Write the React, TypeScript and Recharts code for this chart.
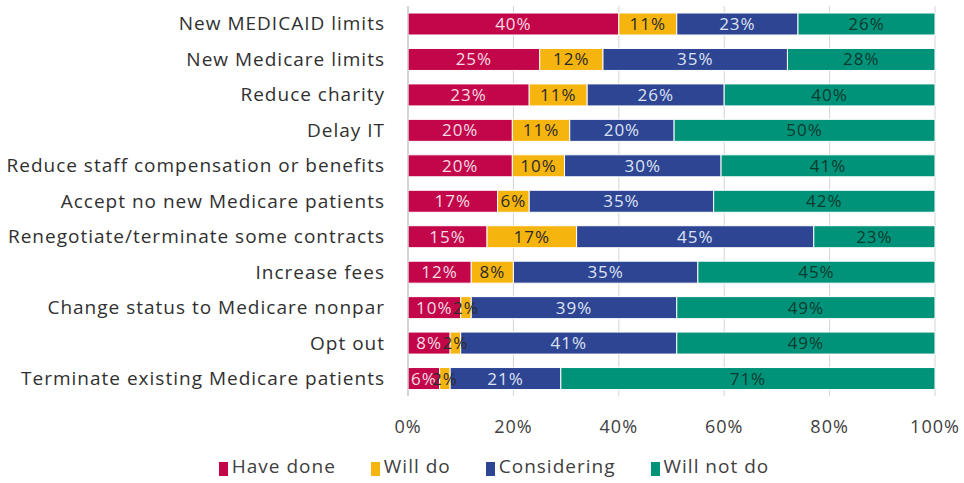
import { Bar, BarChart, CartesianGrid, LabelList, Legend, XAxis, YAxis } from 'recharts';

const categories = [
  'New MEDICAID limits',
  'New Medicare limits',
  'Reduce charity',
  'Delay IT',
  'Reduce staff compensation or benefits',
  'Accept no new Medicare patients',
  'Renegotiate/terminate some contracts',
  'Increase fees',
  'Change status to Medicare nonpar',
  'Opt out',
  'Terminate existing Medicare patients',
];

const haveDone = [40, 25, 23, 20, 20, 17, 15, 12, 10, 8, 6];
const willDo = [11, 12, 11, 11, 10, 6, 17, 8, 2, 2, 2];
const considering = [23, 35, 26, 20, 30, 35, 45, 35, 39, 41, 21];
const willNotDo = [26, 28, 40, 50, 41, 42, 23, 45, 49, 49, 71];

const xTicks = [0, 0.2, 0.4, 0.6, 0.8, 1];

const series = [
  { key: 'haveDone', name: 'Have done', color: '#c3064a', text: '#f5dde4' },
  { key: 'willDo', name: 'Will do', color: '#f6b40e', text: '#2a2a2a' },
  { key: 'considering', name: 'Considering', color: '#2d4593', text: '#dde3f4' },
  { key: 'willNotDo', name: 'Will not do', color: '#00937a', text: '#0d3a2f' },
];

const data = categories.map((name, i) => ({
  name,
  haveDone: haveDone[i],
  willDo: willDo[i],
  considering: considering[i],
  willNotDo: willNotDo[i],
}));

const font = '"Open Sans", sans-serif';

function LegendRow() {
  return (
    <div
      style={{
        display: 'flex',
        justifyContent: 'center',
        gap: 35,
        fontFamily: font,
        fontSize: 19,
        letterSpacing: 1,
        color: '#404040',
        paddingLeft: 53,
        marginTop: 14,
      }}
    >
      {series.map((s) => (
        <div key={s.key} style={{ display: 'flex', alignItems: 'center' }}>
          <span style={{ display: 'inline-block', width: 9, height: 14, background: s.color, marginRight: 4, marginTop: 6 }} />
          {s.name}
        </div>
      ))}
    </div>
  );
}

export default function App() {
  return (
    <div style={{ position: 'absolute', left: 0, top: 0, width: 964, height: 483, background: '#fff' }}>
      <BarChart
        width={964}
        height={483}
        data={data}
        layout="vertical"
        stackOffset="expand"
        barSize={22}
        margin={{ top: 6, right: 29, bottom: 4, left: 0 }}
      >
        <CartesianGrid horizontal={false} stroke="#d4d4d4" />
        <XAxis
          type="number"
          domain={[0, 1]}
          ticks={xTicks}
          tickFormatter={(v: number) => `${Math.round(v * 100)}%`}
          axisLine={false}
          tickLine={false}
          tickMargin={18}
          height={43}
          tick={{ fill: '#404040', fontSize: 18, fontFamily: font, letterSpacing: 1 }}
        />
        <YAxis
          type="category"
          dataKey="name"
          width={408}
          axisLine={{ stroke: '#bfbfbf' }}
          tickLine={false}
          tickSize={0}
          tickMargin={23}
          interval={0}
          tick={{ fill: '#303030', fontSize: 19, fontFamily: font, letterSpacing: 1 }}
        />
        <Legend verticalAlign="bottom" height={40} content={() => <LegendRow />} />
        {series.map((s) => (
          <Bar key={s.key} dataKey={s.key} name={s.name} stackId="a" fill={s.color} stroke="#ffffff" strokeWidth={1} isAnimationActive={false}>
            <LabelList
              dataKey={s.key}
              position="center"
              formatter={(v: number) => `${v}%`}
              fill={s.text}
              fontSize={17}
              fontFamily={font}
              letterSpacing={1}
            />
          </Bar>
        ))}
      </BarChart>
    </div>
  );
}
